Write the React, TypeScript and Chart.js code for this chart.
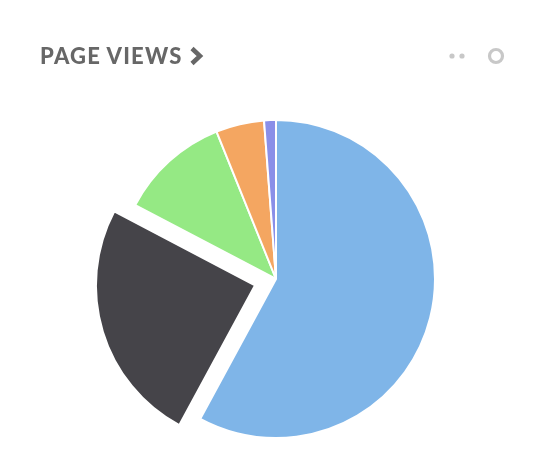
import React, { useEffect, useRef } from "react";
import { Chart, registerables } from "chart.js";

Chart.register(...registerables);

const labels = ["Source A", "Source B", "Source C", "Source D", "Source E"];
const values = [57.9, 24.8, 11.2, 4.9, 1.2];
const colors = ["#7fb5e8", "#454449", "#95e984", "#f4a661", "#8a8fe8"];
const offsets = [0, 88, 0, 0, 0];
const title = "PAGE VIEWS";

export default function App() {
  const ref = useRef<HTMLCanvasElement>(null);
  useEffect(() => {
    if (!ref.current) return;
    const chart = new Chart(ref.current, {
      type: "pie",
      data: {
        labels,
        datasets: [
          {
            data: values,
            backgroundColor: colors,
            borderColor: "#ffffff",
            borderWidth: 2,
            offset: offsets,
          },
        ],
      },
      options: {
        animation: false,
        responsive: false,
        radius: 159,
        layout: { padding: { left: 0, right: 4, top: 110, bottom: 20 } },
        plugins: { legend: { display: false }, tooltip: { enabled: false }, title: { display: false } },
      },
    });
    return () => chart.destroy();
  }, []);
  return (
    <div style={{ position: "fixed", left: 0, top: 0, width: 556, height: 468, background: "#fff", overflow: "hidden" }}>
      <canvas ref={ref} width={556} height={468} style={{ position: "absolute", left: 0, top: 0, width: 556, height: 468 }} />
      <div
        style={{
          position: "absolute",
          left: 40,
          top: 42,
          fontFamily: "Lato, 'Open Sans', sans-serif",
          fontWeight: 900,
          fontSize: 22,
          letterSpacing: 1.2,
          color: "#676767",
          lineHeight: "28px",
          whiteSpace: "nowrap",
        }}
      >
        {title}
        <svg width="16" height="20" viewBox="0 0 16 20" style={{ marginLeft: 5, verticalAlign: "-2px" }}>
          <polyline points="4,2.5 12,10 4,17.5" fill="none" stroke="#676767" strokeWidth="4.5" />
        </svg>
      </div>
      <svg width="80" height="30" style={{ position: "absolute", left: 440, top: 41 }}>
        <circle cx="12" cy="15" r="2.6" fill="#c8c8c8" />
        <circle cx="22" cy="15" r="2.6" fill="#c8c8c8" />
        <circle cx="56" cy="15" r="6.5" fill="none" stroke="#c8c8c8" strokeWidth="3.2" />
      </svg>
    </div>
  );
}
